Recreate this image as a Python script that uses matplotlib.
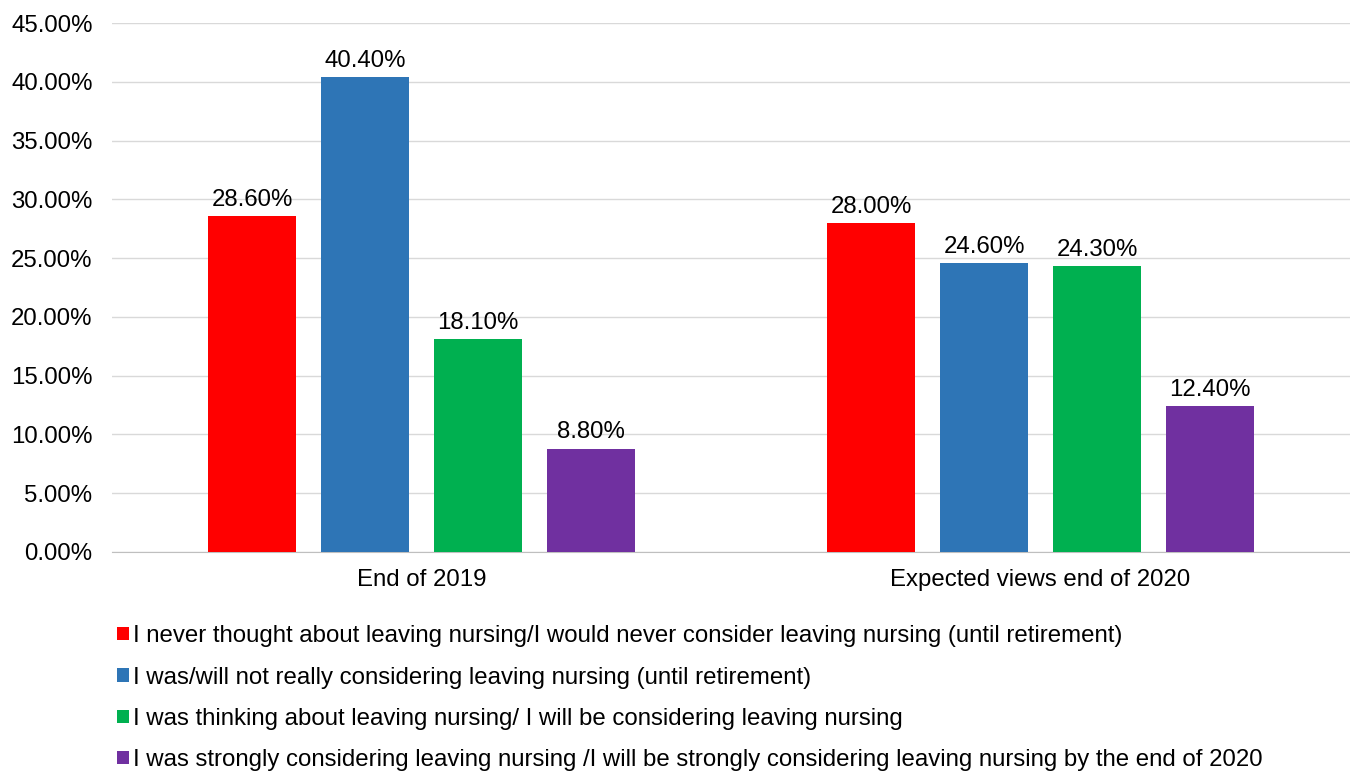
import matplotlib.pyplot as plt
import numpy as np

plt.rcParams['font.family'] = ['Liberation Sans', 'DejaVu Sans']

# survey answers per period
periods = ['End of 2019', 'Expected views end of 2020']
answers = [
    'I never thought about leaving nursing/I would never consider leaving nursing (until retirement)',
    'I was/will not really considering leaving nursing (until retirement)',
    'I was thinking about leaving nursing/ I will be considering leaving nursing',
    'I was strongly considering leaving nursing /I will be strongly considering leaving nursing by the end of 2020',
]
never_leave = [28.6, 28.0]
not_really = [40.4, 24.6]
thinking = [18.1, 24.3]
strongly = [8.8, 12.4]
colors = ['#FF0000', '#2E75B6', '#00B050', '#7030A0']

fs = 17.3

fig = plt.figure(figsize=(13.5, 7.72), dpi=100)
ax = fig.add_axes([0.083, 0.285, 0.917, 0.685])

x = np.arange(len(periods))
width = 0.142
step = 0.1826
bars = []
for i, vals in enumerate([never_leave, not_really, thinking, strongly]):
    b = ax.bar(x + (i - 1.5) * step, vals, width, color=colors[i], label=answers[i], zorder=3)
    bars.append(b)
    for xi, v in zip(x + (i - 1.5) * step, vals):
        ax.text(xi, v + 0.45, '%.2f%%' % v, ha='center', va='bottom', fontsize=fs, color='#000000')

ax.set_xlim(-0.5, 1.5)
ax.set_ylim(0, 45)
ax.set_yticks(np.arange(0, 46, 5))
ax.set_yticklabels(['%.2f%%' % t for t in np.arange(0, 46, 5)], fontsize=fs)
ax.set_xticks(x)
ax.set_xticklabels(periods, fontsize=fs)
ax.tick_params(axis='y', length=0, pad=14)
ax.tick_params(axis='x', length=0, pad=12)
ax.yaxis.grid(True, color='#D9D9D9', linewidth=1, zorder=0)
for s in ['top', 'right', 'left']:
    ax.spines[s].set_visible(False)
ax.spines['bottom'].set_color('#BFBFBF')

fig.legend(handles=bars, loc='upper left', bbox_to_anchor=(0.087, 0.190), frameon=False,
           fontsize=fs, handlelength=0.47, handleheight=0.47, handletextpad=0.17,
           labelspacing=0.80, borderaxespad=0, borderpad=0)

fig.savefig('out.png', dpi=100)
